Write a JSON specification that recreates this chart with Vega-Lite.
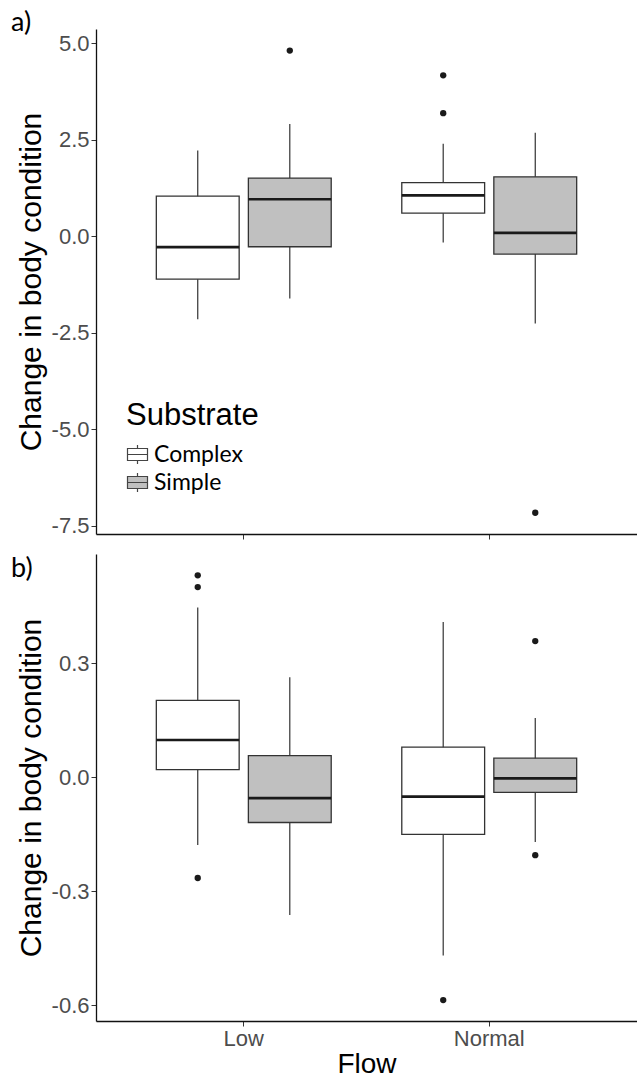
{
  "$schema": "https://vega.github.io/schema/vega-lite/v6.json",
  "background": "white",
  "padding": {"left": 11, "top": 9, "right": 0, "bottom": 0},
  "spacing": 14,
  "config": {
    "view": {"stroke": null},
    "axis": {
      "grid": false,
      "domainColor": "#111111",
      "domainWidth": 1.3,
      "tickColor": "#333333",
      "tickSize": 5,
      "labelColor": "#4d4d4d",
      "labelFont": "Liberation Sans",
      "labelFontSize": 22,
      "labelPadding": 2,
      "titleFont": "Liberation Sans",
      "titleFontSize": 30,
      "titleFontWeight": "normal",
      "titleColor": "#000000"
    }
  },
  "resolve": {
    "scale": {"y": "independent", "fill": "independent"},
    "legend": {"fill": "independent"}
  },
  "datasets": {
    "boxes": [
      {"panel": "a", "Flow": "Low", "Substrate": "Complex", "lower": -2.15, "q1": -1.11, "median": -0.28, "q3": 1.04, "upper": 2.22},
      {"panel": "a", "Flow": "Low", "Substrate": "Simple", "lower": -1.61, "q1": -0.27, "median": 0.96, "q3": 1.51, "upper": 2.91},
      {"panel": "a", "Flow": "Normal", "Substrate": "Complex", "lower": -0.16, "q1": 0.6, "median": 1.06, "q3": 1.39, "upper": 2.4},
      {"panel": "a", "Flow": "Normal", "Substrate": "Simple", "lower": -2.26, "q1": -0.46, "median": 0.09, "q3": 1.54, "upper": 2.68},
      {"panel": "b", "Flow": "Low", "Substrate": "Complex", "lower": -0.178, "q1": 0.02, "median": 0.098, "q3": 0.202, "upper": 0.446},
      {"panel": "b", "Flow": "Low", "Substrate": "Simple", "lower": -0.362, "q1": -0.119, "median": -0.055, "q3": 0.057, "upper": 0.263},
      {"panel": "b", "Flow": "Normal", "Substrate": "Complex", "lower": -0.469, "q1": -0.15, "median": -0.051, "q3": 0.079, "upper": 0.408},
      {"panel": "b", "Flow": "Normal", "Substrate": "Simple", "lower": -0.17, "q1": -0.04, "median": -0.003, "q3": 0.05, "upper": 0.156}
    ],
    "outliers": [
      {"panel": "a", "Flow": "Low", "Substrate": "Simple", "value": 4.81},
      {"panel": "a", "Flow": "Normal", "Substrate": "Complex", "value": 4.17},
      {"panel": "a", "Flow": "Normal", "Substrate": "Complex", "value": 3.19},
      {"panel": "a", "Flow": "Normal", "Substrate": "Simple", "value": -7.16},
      {"panel": "b", "Flow": "Low", "Substrate": "Complex", "value": 0.531},
      {"panel": "b", "Flow": "Low", "Substrate": "Complex", "value": 0.5},
      {"panel": "b", "Flow": "Low", "Substrate": "Complex", "value": -0.265},
      {"panel": "b", "Flow": "Normal", "Substrate": "Complex", "value": -0.586},
      {"panel": "b", "Flow": "Normal", "Substrate": "Simple", "value": 0.358},
      {"panel": "b", "Flow": "Normal", "Substrate": "Simple", "value": -0.205}
    ]
  },
  "vconcat": [
    {
      "title": {"text": "a)", "anchor": "start", "frame": "bounds", "font": "Lato", "fontSize": 27, "fontWeight": "normal", "color": "#000000", "baseline": "alphabetic", "offset": 0, "dx": -5, "dy": 29},
      "width": 541,
      "height": 505,
      "layer": [
        {
          "data": {"name": "boxes"},
          "transform": [{"filter": "datum.panel == 'a'"}],
          "mark": {"type": "rule", "color": "#333333", "strokeWidth": 1.2},
          "encoding": {
            "x": {"field": "Flow", "type": "nominal", "sort": ["Low", "Normal"], "scale": {"paddingInner": 0.25, "paddingOuter": 0.227}, "axis": {"labels": false, "title": null, "ticks": true, "domain": true}},
            "xOffset": {"field": "Substrate", "type": "nominal", "sort": ["Complex", "Simple"], "scale": {"paddingInner": 0.1, "paddingOuter": 0.05}},
            "y": {"field": "lower", "type": "quantitative", "scale": {"domain": [-7.71, 5.37], "nice": false, "zero": false}, "axis": {"title": "Change in body condition", "values": [-7.5, -5, -2.5, 0, 2.5, 5], "labelExpr": "replace(format(datum.value, '.1f'), '−', '-')", "titlePadding": 5}},
            "y2": {"field": "upper"}
          }
        },
        {
          "data": {"name": "boxes"},
          "transform": [{"filter": "datum.panel == 'a'"}],
          "mark": {"type": "bar", "stroke": "#333333", "strokeWidth": 1.3},
          "encoding": {
            "x": {"field": "Flow", "type": "nominal", "sort": ["Low", "Normal"]},
            "xOffset": {"field": "Substrate", "type": "nominal", "sort": ["Complex", "Simple"]},
            "y": {"field": "q1", "type": "quantitative"},
            "y2": {"field": "q3"},
            "fill": {
              "field": "Substrate", "type": "nominal",
              "scale": {"domain": ["Complex", "Simple"], "range": ["#ffffff", "#c0c0c0"]},
              "legend": {
                "title": "Substrate", "orient": "none", "legendX": 30, "legendY": 372, "padding": 0,
                "titleFont": "Liberation Sans", "titleFontSize": 31, "titleFontWeight": "normal", "titleColor": "#000000", "titlePadding": 11,
                "labelFont": "Lato", "labelFontSize": 23, "labelColor": "#000000", "labelOffset": 5,
                "symbolType": "M-1,-0.6H1V0.6H-1Z M-1,0H1 M0,-0.6V-0.95 M0,0.6V0.95",
                "symbolSize": 400, "symbolStrokeColor": "#444444", "symbolStrokeWidth": 1.2, "rowPadding": 3
              }
            }
          }
        },
        {
          "data": {"name": "boxes"},
          "transform": [{"filter": "datum.panel == 'a'"}],
          "mark": {"type": "bar", "stroke": "#1a1a1a", "strokeWidth": 2.6, "fillOpacity": 0},
          "encoding": {
            "x": {"field": "Flow", "type": "nominal", "sort": ["Low", "Normal"]},
            "xOffset": {"field": "Substrate", "type": "nominal", "sort": ["Complex", "Simple"]},
            "y": {"field": "median", "type": "quantitative"},
            "y2": {"field": "median"}
          }
        },
        {
          "data": {"name": "outliers"},
          "transform": [{"filter": "datum.panel == 'a'"}],
          "mark": {"type": "point", "filled": true, "color": "#1a1a1a", "size": 40, "opacity": 1},
          "encoding": {
            "x": {"field": "Flow", "type": "nominal", "sort": ["Low", "Normal"]},
            "xOffset": {"field": "Substrate", "type": "nominal", "sort": ["Complex", "Simple"]},
            "y": {"field": "value", "type": "quantitative"}
          }
        }
      ]
    },
    {
      "title": {"text": "b)", "anchor": "start", "frame": "bounds", "font": "Lato", "fontSize": 27, "fontWeight": "normal", "color": "#000000", "baseline": "alphabetic", "offset": 0, "dx": -5, "dy": 50},
      "width": 541,
      "height": 467,
      "layer": [
        {
          "data": {"name": "boxes"},
          "transform": [{"filter": "datum.panel == 'b'"}],
          "mark": {"type": "rule", "color": "#333333", "strokeWidth": 1.2},
          "encoding": {
            "x": {"field": "Flow", "type": "nominal", "sort": ["Low", "Normal"], "scale": {"paddingInner": 0.25, "paddingOuter": 0.227}, "axis": {"title": "Flow", "labelAngle": 0, "labelPadding": 2, "titlePadding": 1, "titleFontSize": 28}},
            "xOffset": {"field": "Substrate", "type": "nominal", "sort": ["Complex", "Simple"], "scale": {"paddingInner": 0.1, "paddingOuter": 0.05}},
            "y": {"field": "lower", "type": "quantitative", "scale": {"domain": [-0.641, 0.587], "nice": false, "zero": false}, "axis": {"title": "Change in body condition", "values": [-0.6, -0.3, 0, 0.3], "labelExpr": "replace(format(datum.value, '.1f'), '−', '-')", "titlePadding": 5}},
            "y2": {"field": "upper"}
          }
        },
        {
          "data": {"name": "boxes"},
          "transform": [{"filter": "datum.panel == 'b'"}],
          "mark": {"type": "bar", "stroke": "#333333", "strokeWidth": 1.3},
          "encoding": {
            "x": {"field": "Flow", "type": "nominal", "sort": ["Low", "Normal"]},
            "xOffset": {"field": "Substrate", "type": "nominal", "sort": ["Complex", "Simple"]},
            "y": {"field": "q1", "type": "quantitative"},
            "y2": {"field": "q3"},
            "fill": {
              "field": "Substrate", "type": "nominal",
              "scale": {"domain": ["Complex", "Simple"], "range": ["#ffffff", "#c0c0c0"]},
              "legend": null
            }
          }
        },
        {
          "data": {"name": "boxes"},
          "transform": [{"filter": "datum.panel == 'b'"}],
          "mark": {"type": "bar", "stroke": "#1a1a1a", "strokeWidth": 2.6, "fillOpacity": 0},
          "encoding": {
            "x": {"field": "Flow", "type": "nominal", "sort": ["Low", "Normal"]},
            "xOffset": {"field": "Substrate", "type": "nominal", "sort": ["Complex", "Simple"]},
            "y": {"field": "median", "type": "quantitative"},
            "y2": {"field": "median"}
          }
        },
        {
          "data": {"name": "outliers"},
          "transform": [{"filter": "datum.panel == 'b'"}],
          "mark": {"type": "point", "filled": true, "color": "#1a1a1a", "size": 40, "opacity": 1},
          "encoding": {
            "x": {"field": "Flow", "type": "nominal", "sort": ["Low", "Normal"]},
            "xOffset": {"field": "Substrate", "type": "nominal", "sort": ["Complex", "Simple"]},
            "y": {"field": "value", "type": "quantitative"}
          }
        }
      ]
    }
  ]
}
